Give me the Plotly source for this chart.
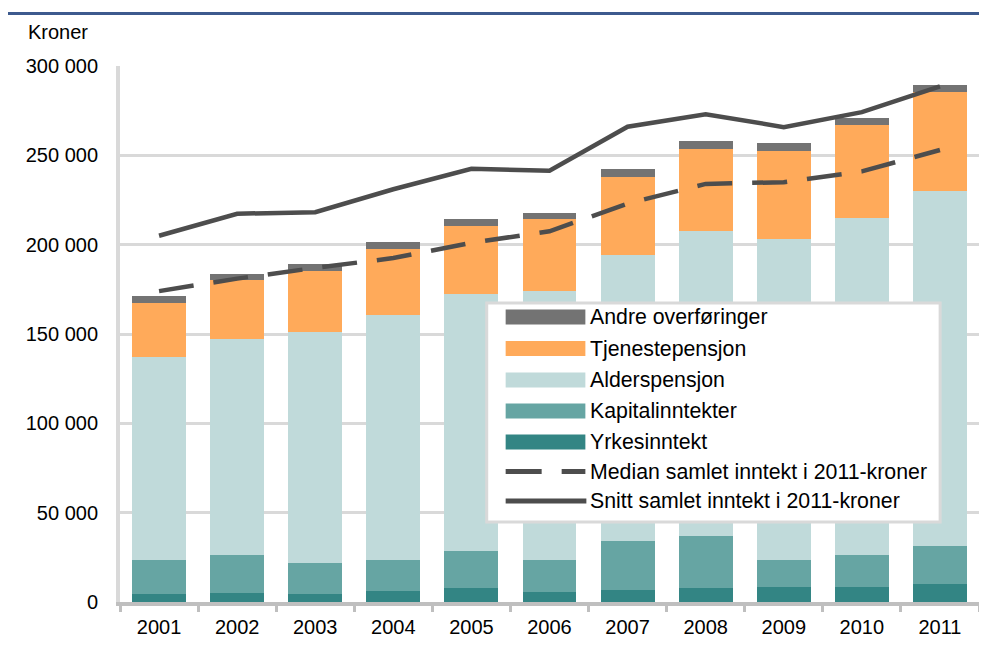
import plotly.graph_objects as go

years = ["2001", "2002", "2003", "2004", "2005", "2006", "2007", "2008", "2009", "2010", "2011"]
yrkesinntekt = [4500, 5000, 4500, 6200, 7800, 5600, 6700, 7800, 8200, 8600, 10200]
kapitalinntekter = [18800, 21300, 17300, 17100, 20800, 17900, 27500, 29200, 15100, 17900, 21300]
alderspensjon = [113700, 120700, 129600, 137600, 143900, 150500, 159800, 170400, 180000, 188700, 198300]
tjenestepensjon = [30600, 33000, 34100, 36600, 37700, 40300, 43800, 46300, 49400, 51900, 55800]
andre_overforinger = [3500, 3700, 3500, 3900, 4100, 3700, 4500, 4300, 4200, 3800, 3500]
median_samlet = [174000, 181000, 187000, 192500, 201000, 207500, 223000, 234000, 235000, 241000, 253000]
snitt_samlet = [205000, 217300, 218200, 231000, 242500, 241400, 266000, 273000, 265800, 274200, 288600]

ytick_vals = [0, 50000, 100000, 150000, 200000, 250000, 300000]
ytick_text = ["0", "50 000", "100 000", "150 000", "200 000", "250 000", "300 000"]

legend_names = ["Andre overføringer", "Tjenestepensjon", "Alderspensjon", "Kapitalinntekter",
                "Yrkesinntekt", "Median samlet inntekt i 2011-kroner", "Snitt samlet inntekt i 2011-kroner"]

FONT = "Liberation Sans, Arial, sans-serif"
C_ANDRE = "#737373"
C_TJEN = "#FFAA5A"
C_ALDERS = "#C0DADA"
C_KAP = "#66A5A3"
C_YRKES = "#338584"
C_LINE = "#4D4D4D"

# plot area geometry (in page pixels) used to place layout decorations
PL, PW, PB, PH = 120, 862, 602, 536


def px(x):
    return (x - PL) / PW


def py(y):
    return (PB - y) / PH


fig = go.Figure()

bar_series = [
    ("Yrkesinntekt", yrkesinntekt, C_YRKES),
    ("Kapitalinntekter", kapitalinntekter, C_KAP),
    ("Alderspensjon", alderspensjon, C_ALDERS),
    ("Tjenestepensjon", tjenestepensjon, C_TJEN),
    ("Andre overføringer", andre_overforinger, C_ANDRE),
]
for name, vals, col in bar_series:
    fig.add_trace(go.Bar(x=years, y=vals, name=name, marker=dict(color=col, line=dict(width=0)),
                         showlegend=False))

fig.add_trace(go.Scatter(x=years, y=median_samlet, mode="lines", name=legend_names[5], showlegend=False,
                         line=dict(color=C_LINE, width=4.5, dash="35px,20px")))
fig.add_trace(go.Scatter(x=years, y=snitt_samlet, mode="lines", name=legend_names[6], showlegend=False,
                         line=dict(color=C_LINE, width=4.5)))

# custom legend (box, swatches, labels)
shapes = [
    dict(type="line", xref="paper", yref="paper", x0=px(4), x1=px(985), y0=py(13.5), y1=py(13.5),
         line=dict(color="#3D5A8E", width=3)),
    dict(type="rect", xref="paper", yref="paper", layer="above",
         x0=px(488), x1=px(943), y0=py(303), y1=py(522),
         fillcolor="white", line=dict(color="#D9D9D9", width=3)),
]
annotations = [
    dict(text="Kroner", xref="paper", yref="paper", x=px(26), y=py(32),
         xanchor="left", yanchor="middle", showarrow=False, font=dict(size=20)),
    dict(text="<b>2011</b>", xref="paper", yref="paper", x=px(143), y=py(12.5),
         xanchor="left", yanchor="bottom", showarrow=False, font=dict(size=20)),
]
row_y = [317, 348.5, 380, 411, 442, 471.5, 501]
swatch_cols = [C_ANDRE, C_TJEN, C_ALDERS, C_KAP, C_YRKES]
for i, name in enumerate(legend_names):
    yy = row_y[i]
    if i < 5:
        shapes.append(dict(type="rect", xref="paper", yref="paper", layer="above",
                           x0=px(507), x1=px(587), y0=py(yy - 7.5), y1=py(yy + 7.5),
                           fillcolor=swatch_cols[i], line=dict(width=0)))
    elif i == 5:
        shapes.append(dict(type="line", xref="paper", yref="paper", layer="above",
                           x0=px(507), x1=px(587), y0=py(yy), y1=py(yy),
                           line=dict(color=C_LINE, width=5, dash="36px,20px")))
    else:
        shapes.append(dict(type="line", xref="paper", yref="paper", layer="above",
                           x0=px(507), x1=px(588), y0=py(yy), y1=py(yy),
                           line=dict(color=C_LINE, width=5)))
    annotations.append(dict(text=name, xref="paper", yref="paper", x=px(590), y=py(yy),
                            xanchor="left", yanchor="middle", showarrow=False,
                            font=dict(size=21.3)))

fig.update_layout(
    width=987, height=648,
    # offsets compensate for the 8px default page margin
    margin=dict(l=112, r=13, t=58, b=54),
    paper_bgcolor="white", plot_bgcolor="white",
    barmode="stack", bargap=0.31,
    showlegend=False,
    font=dict(family=FONT, size=20, color="black"),
    xaxis=dict(type="category", range=[-0.5, 10.5], showgrid=False,
               showline=True, linecolor="#BFBFBF", linewidth=4,
               ticks="outside", tickson="boundaries", ticklen=6, tickwidth=3, tickcolor="#BFBFBF",
               tickfont=dict(size=20), ticklabelstandoff=4),
    yaxis=dict(range=[0, 300000], tickvals=ytick_vals, ticktext=ytick_text,
               showgrid=True, gridcolor="#D9D9D9", gridwidth=3, zeroline=False,
               showline=True, linecolor="#D9D9D9", linewidth=4, mirror=True,
               ticks="", tickfont=dict(size=20), ticklabelstandoff=14),
    shapes=shapes,
    annotations=annotations,
)

fig.write_html("out.html")
